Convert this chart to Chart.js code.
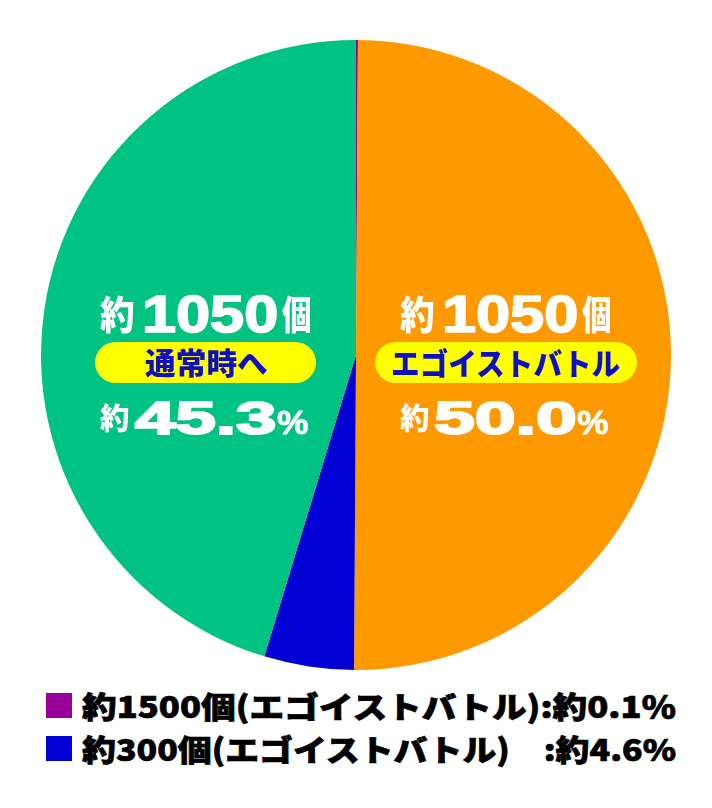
<!DOCTYPE html>
<html>
<head>
<meta charset="utf-8">
<script src="https://cdn.jsdelivr.net/npm/chart.js@4"></script>
<style>
  html,body{margin:0;padding:0;background:#fff;}
  #stage{position:relative;width:712px;height:808px;overflow:hidden;background:#fff;}
  #pieBox{position:absolute;left:41px;top:40px;width:630px;height:630px;}
  .pill{position:absolute;background:#ffff00;border-radius:21px;}
  .sw{position:absolute;}
</style>
</head>
<body>
<div id="stage">
  <div id="pieBox"><canvas id="pie" width="630" height="630"></canvas></div>
</div>
<script>
// ---- data ----
const categories = ['約1500個(エゴイストバトル)', '約1050個(エゴイストバトル)', '約300個(エゴイストバトル)', '約1050個(通常時へ)'];
const shares = [0.1, 50.0, 4.6, 45.3];
const counts = ['1500', '1050', '300', '1050'];
const routeNames = ['エゴイストバトル', 'エゴイストバトル', 'エゴイストバトル', '通常時へ'];
const sliceColors = ['#990099', '#ff9900', '#0000d4', '#00c383'];

new Chart(document.getElementById('pie'), {
  type: 'pie',
  data: {
    labels: categories,
    datasets: [{ data: shares, backgroundColor: sliceColors, borderWidth: 0, hoverOffset: 0 }]
  },
  options: {
    responsive: false,
    animation: false,
    layout: { padding: 0 },
    plugins: { legend: { display: false }, tooltip: { enabled: false } }
  }
});

// ---- text placement helpers ----
const stage = document.getElementById('stage');
const mctx = document.createElement('canvas').getContext('2d');
const CJK = '"Noto Sans CJK JP"';
const LAT = '"Liberation Sans"';

function placeText(text, fam, weight, color, box, refText, stroke) {
  const S = 100;
  mctx.font = weight + ' ' + S + 'px ' + fam;
  const m = mctx.measureText(text);
  const r = refText ? mctx.measureText(refText) : m;
  const inkH = r.actualBoundingBoxAscent + r.actualBoundingBoxDescent;
  const sw = stroke || 0;
  const size = S * (box.y1 - box.y0 - sw) / inkH;
  const k = size / S;
  const inkW = (m.actualBoundingBoxLeft + m.actualBoundingBoxRight) * k;
  const sx = (box.x1 - box.x0 - sw) / inkW;
  const baseline = box.y1 - sw / 2 - r.actualBoundingBoxDescent * k;
  const div = document.createElement('div');
  div.style.cssText = 'position:absolute;left:0;top:0;white-space:nowrap;line-height:normal;transform-origin:0 0;';
  div.style.font = weight + ' ' + size + 'px ' + fam;
  div.style.color = color;
  if (stroke) { div.style.webkitTextStroke = stroke + 'px ' + color; }
  const span = document.createElement('span');
  span.textContent = text;
  const mk = document.createElement('span');
  mk.style.cssText = 'display:inline-block;width:0;height:0;vertical-align:baseline;';
  div.append(span, mk);
  stage.appendChild(div);
  const bOff = mk.offsetTop;
  div.style.left = (box.x0 + sw / 2 + m.actualBoundingBoxLeft * k * sx) + 'px';
  div.style.top = (baseline - bOff) + 'px';
  div.style.transform = 'scaleX(' + sx + ')';
}

function pill(x0, x1, y0, y1) {
  const d = document.createElement('div');
  d.className = 'pill';
  d.style.left = x0 + 'px'; d.style.top = y0 + 'px';
  d.style.width = (x1 - x0) + 'px'; d.style.height = (y1 - y0) + 'px';
  stage.appendChild(d);
}

function sliceLabel(i, dx, pillBox, routeBox) {
  const white = '#ffffff';
  placeText('約', CJK, 900, white, {x0: 100 + dx, x1: 133 + dx, y0: 295, y1: 333});
  placeText(counts[i], LAT, 700, white, {x0: 145 + dx, x1: 277 + dx, y0: 295, y1: 333}, null, 1.6);
  placeText('個', CJK, 900, white, {x0: 282 + dx, x1: 310 + dx, y0: 295, y1: 333});
  pill(pillBox[0], pillBox[1], 342, 383);
  placeText(routeNames[i], CJK, 900, '#1010c0', {x0: routeBox[0], x1: routeBox[1], y0: 348, y1: 377});
  placeText('約', CJK, 900, white, {x0: 100 + dx, x1: 128 + dx, y0: 403, y1: 432});
  placeText(shares[i].toFixed(1), LAT, 700, white, {x0: 135 + dx, x1: 275 + dx, y0: 400, y1: 435}, null, 2);
  placeText('%', LAT, 700, white, {x0: 277 + dx, x1: 308 + dx, y0: 410, y1: 435}, null, 0.8);
}

function legendRow(i, y0, text) {
  const sw = document.createElement('div');
  sw.className = 'sw';
  sw.style.background = sliceColors[i];
  sw.style.left = '46px'; sw.style.top = (y0 + 1) + 'px';
  sw.style.width = '26px'; sw.style.height = '25px';
  stage.appendChild(sw);
  placeText(text, CJK, 900, '#000000', {x0: 82, x1: 676, y0: y0, y1: y0 + 30}, '約', 0.7);
}

function build() {
  sliceLabel(3, 0, [95, 316], [145, 267]);
  sliceLabel(1, 300, [375, 637], [393, 620]);
  legendRow(0, 692, '約' + counts[0] + '個(' + routeNames[0] + '):約' + shares[0].toFixed(1) + '％');
  legendRow(2, 735, '約' + counts[2] + '個(' + routeNames[2] + ')　:約' + shares[2].toFixed(1) + '%');
}
if (document.fonts && document.fonts.ready) {
  Promise.all([
    document.fonts.load('900 40px "Noto Sans CJK JP"', '約個'),
    document.fonts.load('700 40px "Liberation Sans"', '0123')
  ]).catch(()=>{}).then(build);
} else { build(); }
</script>
</body>
</html>
